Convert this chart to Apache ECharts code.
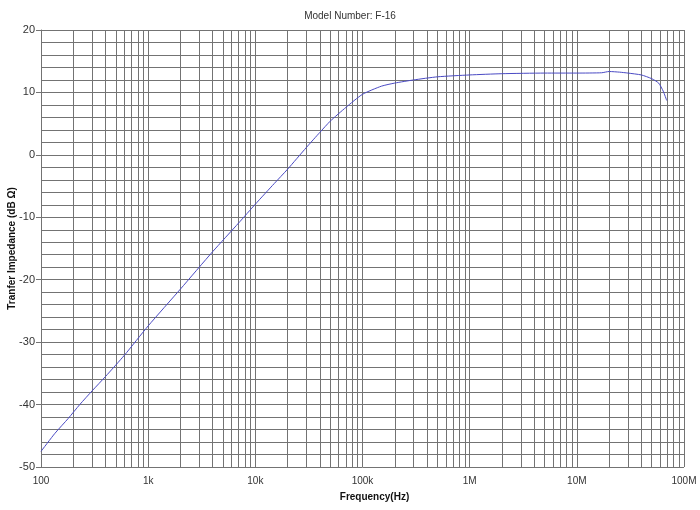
<!DOCTYPE html>
<html>
<head>
<meta charset="utf-8">
<script src="https://cdn.jsdelivr.net/npm/echarts@6/dist/echarts.min.js"></script>
<style>html,body{margin:0;padding:0;background:#fff}#c{width:700px;height:510px}</style>
</head>
<body>
<div id="c"></div>
<script>
const titleText = 'Model Number: F-16';
const xAxisName = 'Frequency(Hz)';
const yAxisName = 'Tranfer Impedance (dB \u03A9)';
const freqHz = [100, 135, 180, 230, 300, 400, 600, 1000, 2000, 4000, 7000, 10000, 15000, 20000, 30000, 40000, 50000, 70000, 100000, 150000, 200000, 300000, 500000, 1000000, 2000000, 5000000, 10000000, 17000000, 20000000, 25000000, 30000000, 40000000, 50000000, 58000000, 64000000, 69000000];
const impedanceDb = [-47.5, -44.6, -42.2, -40.0, -37.8, -35.5, -32.1, -27.4, -21.5, -15.5, -10.9, -7.9, -4.6, -2.3, 1.2, 3.6, 5.4, 7.6, 9.7, 11.0, 11.5, 12.0, 12.5, 12.8, 13.0, 13.1, 13.1, 13.15, 13.35, 13.25, 13.1, 12.8, 12.2, 11.5, 10.2, 8.7];
const xTickLabels = {100: '100', 1000: '1k', 10000: '10k', 100000: '100k', 1000000: '1M', 10000000: '10M', 100000000: '100M'};
const decadeStarts = [100, 1000, 10000, 100000, 1000000, 10000000];
const minorMultipliers = [2, 3, 4, 5, 6, 7, 8, 9];

const gridColor = '#737373';
const font = 'Liberation Sans, Arial, sans-serif';
const minorLines = [];
decadeStarts.forEach(d => minorMultipliers.forEach(m => minorLines.push({xAxis: d * m})));

const chart = echarts.init(document.getElementById('c'), null, {renderer: 'canvas'});
chart.setOption({
  backgroundColor: '#fff',
  animation: false,
  title: {
    text: titleText, left: 'center', top: 6,
    textStyle: {fontFamily: font, fontSize: 10, fontWeight: 'normal', color: '#333'}
  },
  grid: {left: 41, right: 16, top: 30, bottom: 43, containLabel: false, outerBoundsMode: 'none'},
  xAxis: {
    type: 'log', logBase: 10, min: 100, max: 100000000,
    name: xAxisName, nameLocation: 'middle', nameGap: 25, nameMoveOverlap: false,
    nameTextStyle: {fontFamily: font, fontSize: 10, fontWeight: 'bold', color: '#111', padding: [0, 0, 0, 24]},
    axisLine: {show: true, lineStyle: {color: gridColor, width: 1}},
    axisTick: {show: true, length: 3, lineStyle: {color: gridColor}},
    axisLabel: {
      fontFamily: font, fontSize: 10, color: '#333', margin: 9,
      formatter: v => xTickLabels[Math.round(v)] || ''
    },
    splitLine: {show: true, lineStyle: {color: gridColor, width: 1}}
  },
  yAxis: {
    type: 'value', min: -50, max: 20, interval: 10,
    name: yAxisName, nameLocation: 'middle', nameGap: 24, nameRotate: 90, nameMoveOverlap: false,
    nameTextStyle: {fontFamily: font, fontSize: 10, fontWeight: 'bold', color: '#111'},
    axisLine: {show: true, lineStyle: {color: gridColor, width: 1}},
    axisTick: {show: true, length: 5, lineStyle: {color: gridColor}},
    axisLabel: {fontFamily: font, fontSize: 11, color: '#333', margin: 6},
    splitLine: {show: true, lineStyle: {color: gridColor, width: 1}},
    minorTick: {show: false, splitNumber: 5},
    minorSplitLine: {show: true, lineStyle: {color: gridColor, width: 1}}
  },
  series: [{
    type: 'line',
    data: freqHz.map((f, i) => [f, impedanceDb[i]]),
    showSymbol: false,
    smooth: 0.2,
    lineStyle: {color: '#4a4ac4', width: 1},
    z: 5,
    markLine: {
      silent: true, symbol: 'none', animation: false,
      label: {show: false},
      lineStyle: {color: gridColor, width: 1, type: 'solid'},
      data: minorLines,
      z: 1
    }
  }]
});
</script>
</body>
</html>
